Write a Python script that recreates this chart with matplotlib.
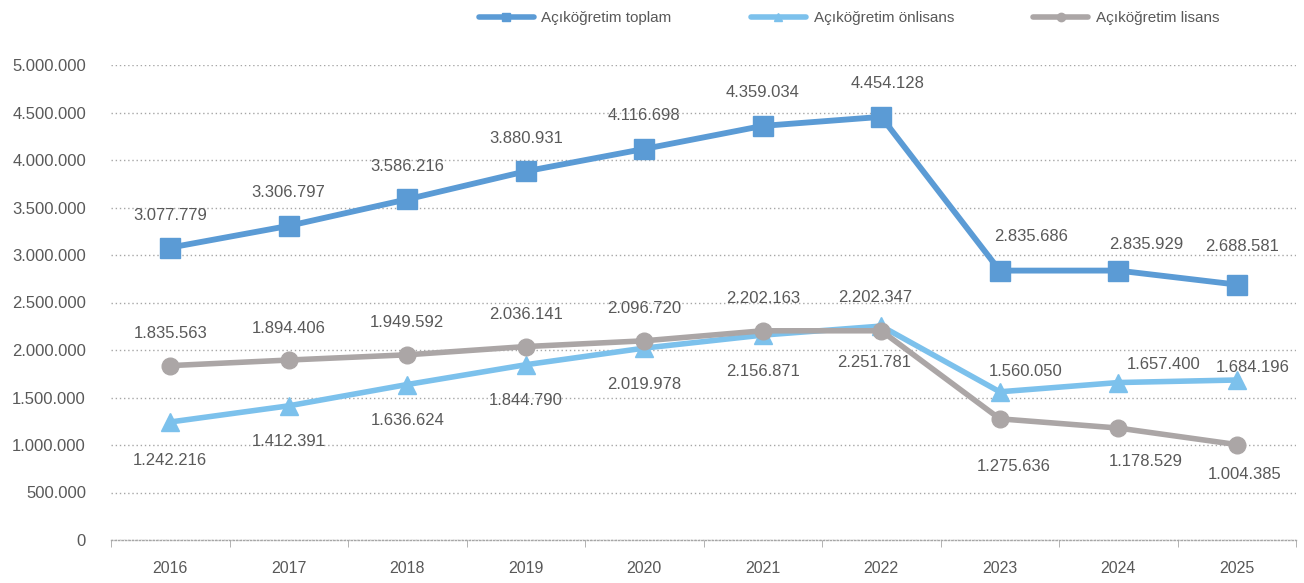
import matplotlib
matplotlib.use("Agg")
import matplotlib.pyplot as plt
from matplotlib.lines import Line2D
from matplotlib.ticker import FuncFormatter, MultipleLocator

plt.rcParams['font.family'] = ['Liberation Sans', 'DejaVu Sans']

years = ['2016', '2017', '2018', '2019', '2020', '2021', '2022', '2023', '2024', '2025']
toplam = [3077779, 3306797, 3586216, 3880931, 4116698, 4359034, 4454128, 2835686, 2835929, 2688581]
onlisans = [1242216, 1412391, 1636624, 1844790, 2019978, 2156871, 2251781, 1560050, 1657400, 1684196]
lisans = [1835563, 1894406, 1949592, 2036141, 2096720, 2202163, 2202347, 1275636, 1178529, 1004385]
names = ['Açıköğretim toplam', 'Açıköğretim önlisans', 'Açıköğretim lisans']

c_top = '#5B9BD5'
c_on = '#7CC1EC'
c_lis = '#ABA6A6'
txt = '#595959'

# label offsets in pixels (dx, dy)
dx_top = [0, 0, 0, 0, 0, 0, 6, 31, 28, 5]
dy_top = [32, 33, 33, 33, 33, 33, 33, 34, 26, 38]
dx_on = [0, 0, 0, 0, 0, 0, -7, 26, 45, 16]
dy_on = [-39, -36, -36, -36, -36, -36, -36, 20, 18, 13]
dx_lis = [0, 0, 0, 0, 0, 0, -6, 14, 28, 8]
dy_lis = [32, 32, 32, 32, 32, 32, 33, -48, -33, -30]

W, H = 1304, 583
fig = plt.figure(figsize=(W / 100, H / 100), dpi=100)
ax = fig.add_axes([111 / W, (H - 540) / H, (1296 - 111) / W, (540 - 65) / H])

x = list(range(len(years)))
ax.plot(x, toplam, color=c_top, lw=4.2, marker='s', ms=14, zorder=3, solid_capstyle='round')
ax.plot(x, onlisans, color=c_on, lw=4.0, marker='^', ms=13, zorder=4, solid_capstyle='round')
ax.plot(x, lisans, color=c_lis, lw=4.0, marker='o', ms=12, zorder=5, solid_capstyle='round')

def fmt(v):
    return f"{v:,}".replace(',', '.')

for series, dxs, dys in ((toplam, dx_top, dy_top), (onlisans, dx_on, dy_on), (lisans, dx_lis, dy_lis)):
    for xi, v, dx, dy in zip(x, series, dxs, dys):
        ax.annotate(fmt(v), (xi, v), xytext=(dx * 0.72, dy * 0.72), textcoords='offset points',
                    ha='center', va='center', fontsize=12, color=txt, zorder=6)

ax.set_xlim(-0.5, len(years) - 0.5)
ax.set_ylim(0, 5000000)
ax.yaxis.set_major_locator(MultipleLocator(500000))
ax.yaxis.set_major_formatter(FuncFormatter(lambda v, p: fmt(int(v))))
ax.set_xticks(x)
ax.set_xticklabels(years)
ax.set_xticks([i - 0.5 for i in range(len(years) + 1)], minor=True)

for s in ('top', 'right', 'left'):
    ax.spines[s].set_visible(False)
ax.spines['bottom'].set_color('#A6A6A6')
ax.spines['bottom'].set_linestyle((0, (1, 1.5)))
ax.spines['bottom'].set_linewidth(1)
ax.grid(axis='y', color='#A6A6A6', linestyle=(0, (1, 2)), linewidth=1)
ax.set_axisbelow(True)

ax.tick_params(axis='y', length=0, labelsize=12, labelcolor=txt, pad=18)
ax.tick_params(axis='x', which='major', length=0, labelsize=11.5, labelcolor=txt, pad=15)
ax.tick_params(axis='x', which='minor', length=5, color='#A6A6A6', direction='out')

handles = [
    Line2D([], [], color=c_top, lw=4.0, marker='s', ms=6, solid_capstyle='round'),
    Line2D([], [], color=c_on, lw=4.0, marker='^', ms=6, solid_capstyle='round'),
    Line2D([], [], color=c_lis, lw=4.0, marker='o', ms=6, solid_capstyle='round'),
]
fig.legend(handles, names, loc='center', bbox_to_anchor=(849 / W, 1 - 18 / H), ncol=3,
           frameon=False, fontsize=11, labelcolor=txt, handlelength=3.6,
           handletextpad=0.5, columnspacing=5.2)

fig.savefig('out.png', dpi=100)
